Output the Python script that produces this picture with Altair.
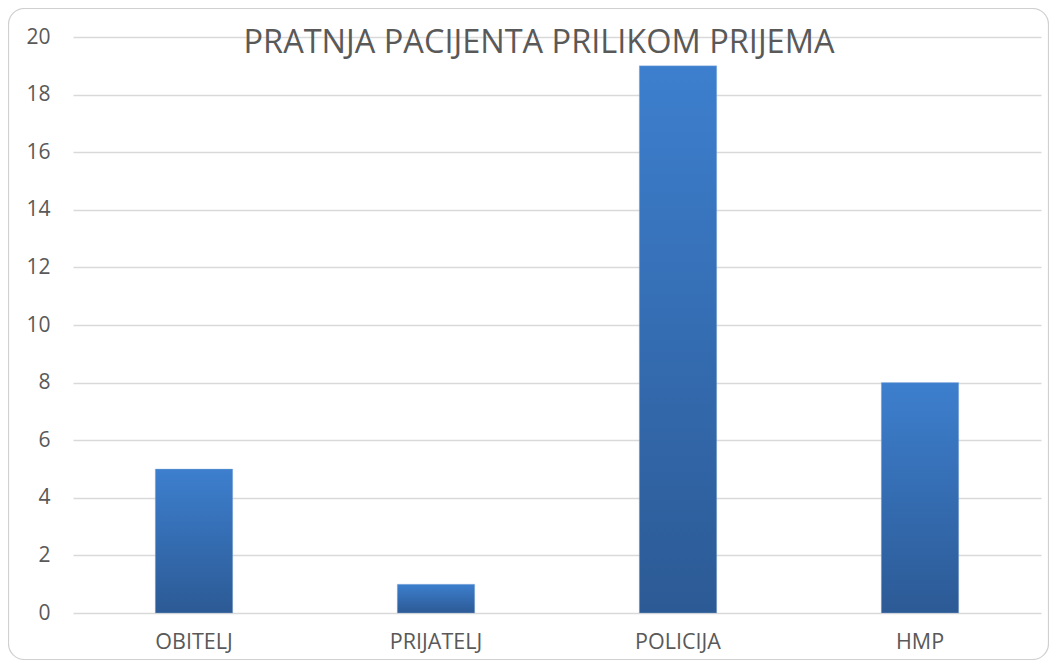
import altair as alt
import pandas as pd

categories = ["OBITELJ", "PRIJATELJ", "POLICIJA", "HMP"]
values = [5, 1, 19, 8]
y_ticks = [0, 2, 4, 6, 8, 10, 12, 14, 16, 18, 20]
title_text = "PRATNJA PACIJENTA PRILIKOM PRIJEMA"

df = pd.DataFrame({"kategorija": categories, "broj": values})

W, H = 968, 576
FONT = "Open Sans"
TXT = "#595959"

bars = alt.Chart(df).mark_bar(
    color=alt.Gradient(
        gradient="linear",
        stops=[alt.GradientStop(color="#3d7fce", offset=0),
               alt.GradientStop(color="#2c5a95", offset=1)],
        x1=0, x2=0, y1=0, y2=1,
    ),
    stroke="#9db8dc", strokeWidth=0.6, strokeOpacity=0.6,
).encode(
    x=alt.X("kategorija:N", sort=categories, title=None,
            scale=alt.Scale(paddingInner=0.68, paddingOuter=0.34),
            axis=alt.Axis(labelAngle=0, ticks=False, domain=False, labelPadding=18,
                          labelFont=FONT, labelFontSize=21.5, labelColor=TXT,
                          labelBaseline="top")),
    y=alt.Y("broj:Q", title=None,
            scale=alt.Scale(domain=[0, 20], nice=False),
            axis=alt.Axis(values=y_ticks, ticks=False, domain=False, labelPadding=23,
                          labelFont=FONT, labelFontSize=21, labelColor=TXT,
                          grid=True, gridColor="#d9d9d9", gridWidth=1.5)),
)

title_df = pd.DataFrame({"t": [title_text]})
title = alt.Chart(title_df).mark_text(
    font=FONT, fontSize=32.5, color=TXT, align="center", baseline="alphabetic"
).encode(text="t:N", x=alt.value(466), y=alt.value(16))

frame_df = pd.DataFrame({"f": [1]})
frame = alt.Chart(frame_df).mark_rect(
    fill=None, fillOpacity=0, stroke="#d0d0d0", strokeWidth=1.2, cornerRadius=16
).encode(x=alt.value(-64.5), x2=alt.value(975.5), y=alt.value(-28.5), y2=alt.value(622.5))

chart = alt.layer(bars, title, frame).properties(
    width=W, height=H,
    autosize=alt.AutoSizeParams(type="none"),
    padding={"left": 65, "top": 29, "right": 8, "bottom": 47},
).configure_view(stroke=None)

chart.save("out.html", embed_options={"renderer": "svg", "actions": False})
